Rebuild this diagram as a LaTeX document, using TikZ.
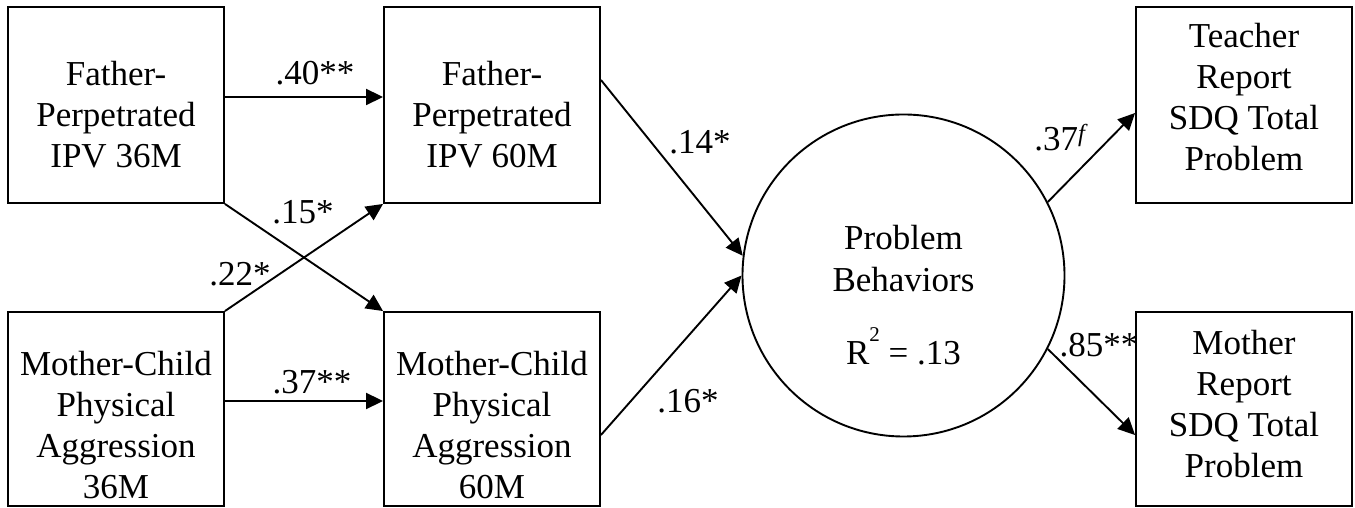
\documentclass[tikz,border=0pt]{standalone}
\usepackage{fontspec}
\setmainfont{Liberation Serif}
\usetikzlibrary{positioning,arrows.meta}

\begin{document}
\begin{tikzpicture}[
    var/.style={draw, line width=1.9pt, minimum width=216pt, minimum height=196pt,
                align=center, inner sep=2pt, font=\fontsize{35}{41}\selectfont},
    latent/.style={draw, circle, line width=1.9pt, minimum size=322pt, inner sep=0pt},
    arr/.style={-{Triangle[length=17pt,width=16pt]}, line width=1.9pt},
    coef/.style={font=\fontsize{35}{42}\selectfont, inner sep=0pt}
  ]
  \useasboundingbox (0pt,0pt) rectangle (1355pt,508pt);

  % ===== Predictors at 36 months (left column) =====
  \node[var] (fath36) at (116pt, 403pt) {\rule{0pt}{44pt}Father-\\Perpetrated\\IPV 36M};
  \node[var, minimum height=194pt] (moth36) at (116pt, 99pt)
    {\rule{0pt}{57pt}Mother-Child\\Physical\\Aggression\\36M};

  % ===== Mediators at 60 months =====
  \node[var] (fath60) at (492pt, 403pt) {\rule{0pt}{44pt}Father-\\Perpetrated\\IPV 60M};
  \node[var, minimum height=194pt] (moth60) at (492pt, 99pt)
    {\rule{0pt}{57pt}Mother-Child\\Physical\\Aggression\\60M};
  \draw[arr] ([yshift=8pt]fath36.east) -- ([yshift=8pt]fath60.west);
  \draw[arr] (fath36.south east) -- (moth60.north west);
  \draw[arr] (moth36.north east) -- (fath60.south west);
  \draw[arr] ([yshift=8pt]moth36.east) -- ([yshift=8pt]moth60.west);
  \node[coef] at (315pt, 435pt) {.40**};
  \node[coef] at (303pt, 296pt) {.15*};
  \node[coef] at (240pt, 234pt) {.22*};
  \node[coef] at (312pt, 126pt) {.37**};

  % ===== Latent outcome =====
  \node[latent] (prob) at (903.5pt, 232.5pt) {};
  \node[coef, align=center] at ([yshift=-20pt]prob.center)
    {Problem\\Behaviors\\[31pt]R\smash{\raisebox{23pt}{\fontsize{21}{21}\selectfont 2}} = .13};
  \draw[arr] ([yshift=25pt]fath60.east) -- (prob.173);
  \draw[arr] ([yshift=-26pt]moth60.east) -- (prob.west);
  \node[coef] at (700pt, 366pt) {.14*};
  \node[coef] at (688pt, 107pt) {.16*};

  % ===== Indicators (right column) =====
  \node[var] (teach) at (1244pt, 403pt) {Teacher\\Report\\SDQ Total\\Problem\rule[-17pt]{0pt}{17pt}};
  \node[var, minimum height=194pt] (mrep) at (1244pt, 99pt)
    {Mother\\Report\\SDQ Total\\Problem\rule[-10pt]{0pt}{10pt}};
  \draw[arr] (prob.27) -- ([yshift=-8pt]teach.west);
  \draw[arr] (prob.-27) -- ([yshift=-26pt]mrep.west);
  \node[coef] at (1060pt, 370pt) {.37\textsuperscript{\itshape f}};
  \node[coef] at (1099pt, 163pt) {.85**};
\end{tikzpicture}
\end{document}
